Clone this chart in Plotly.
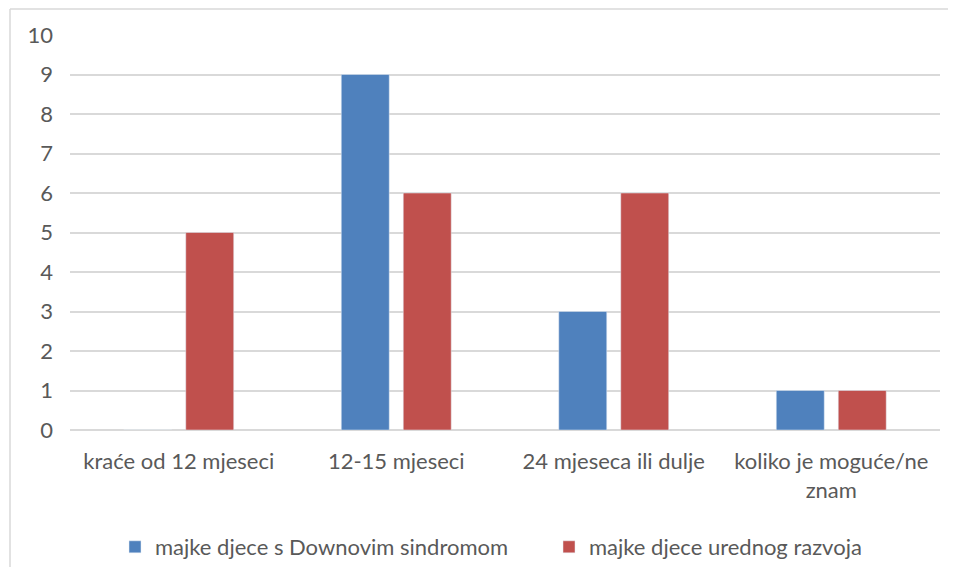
import plotly.graph_objects as go

categories = ["kraće od 12 mjeseci", "12-15 mjeseci", "24 mjeseca ili dulje", "koliko je moguće/ne<br>znam"]
down_values = [0, 9, 3, 1]
typical_values = [5, 6, 6, 1]
series_names = ["majke djece s Downovim sindromom", "majke djece urednog razvoja"]

FONT = "Lato"
GRAY = "#595959"
FS = 22

fig = go.Figure()
fig.add_trace(go.Bar(x=categories, y=down_values, name=series_names[0], marker_color="#4f81bd"))
fig.add_trace(go.Bar(x=categories, y=typical_values, name=series_names[1], marker_color="#c0504d"))

W, H = 940, 559
L, R, T, B = 62, 8, 27, 137
pw, ph = W - L - R, H - T - B

def px_x(x):  # page pixel -> paper x
    return (x - 8 - L) / pw

def px_y(y):  # page pixel -> paper y
    return (H - B - (y - 8)) / ph

fig.update_layout(
    width=W, height=H,
    margin=dict(l=L, r=R, t=T, b=B, autoexpand=False),
    paper_bgcolor="white", plot_bgcolor="white",
    barmode="group", bargap=0.43, bargroupgap=0.226,
    font=dict(family=FONT, size=FS, color=GRAY),
    showlegend=True,
    legend=dict(orientation="h", x=px_x(115), xanchor="left", y=px_y(526), yanchor="top",
                entrywidth=389, entrywidthmode="pixels",
                font=dict(family=FONT, size=FS, color=GRAY), itemwidth=30, traceorder="normal"),
    shapes=[
        dict(type="line", xref="paper", yref="paper", x0=px_x(10), x1=px_x(960), y0=px_y(9), y1=px_y(9),
             line=dict(color="#d9d9d9", width=1.5)),
        dict(type="line", xref="paper", yref="paper", x0=px_x(10), x1=px_x(10), y0=px_y(9), y1=px_y(580),
             line=dict(color="#d9d9d9", width=1.5)),
    ],
)
fig.update_xaxes(showgrid=False, showline=False, ticks="", ticklabelstandoff=16, automargin=False,
                 tickfont=dict(family=FONT, size=FS, color=GRAY))
fig.update_yaxes(range=[0, 10], dtick=1, showgrid=True, gridcolor="#d9d9d9", gridwidth=1.5,
                 zeroline=True, zerolinecolor="#d9d9d9", zerolinewidth=1.5, showline=False, automargin=False,
                 ticks="", ticklabelstandoff=16, tickfont=dict(family=FONT, size=FS, color=GRAY))

fig.write_html("out.html")
